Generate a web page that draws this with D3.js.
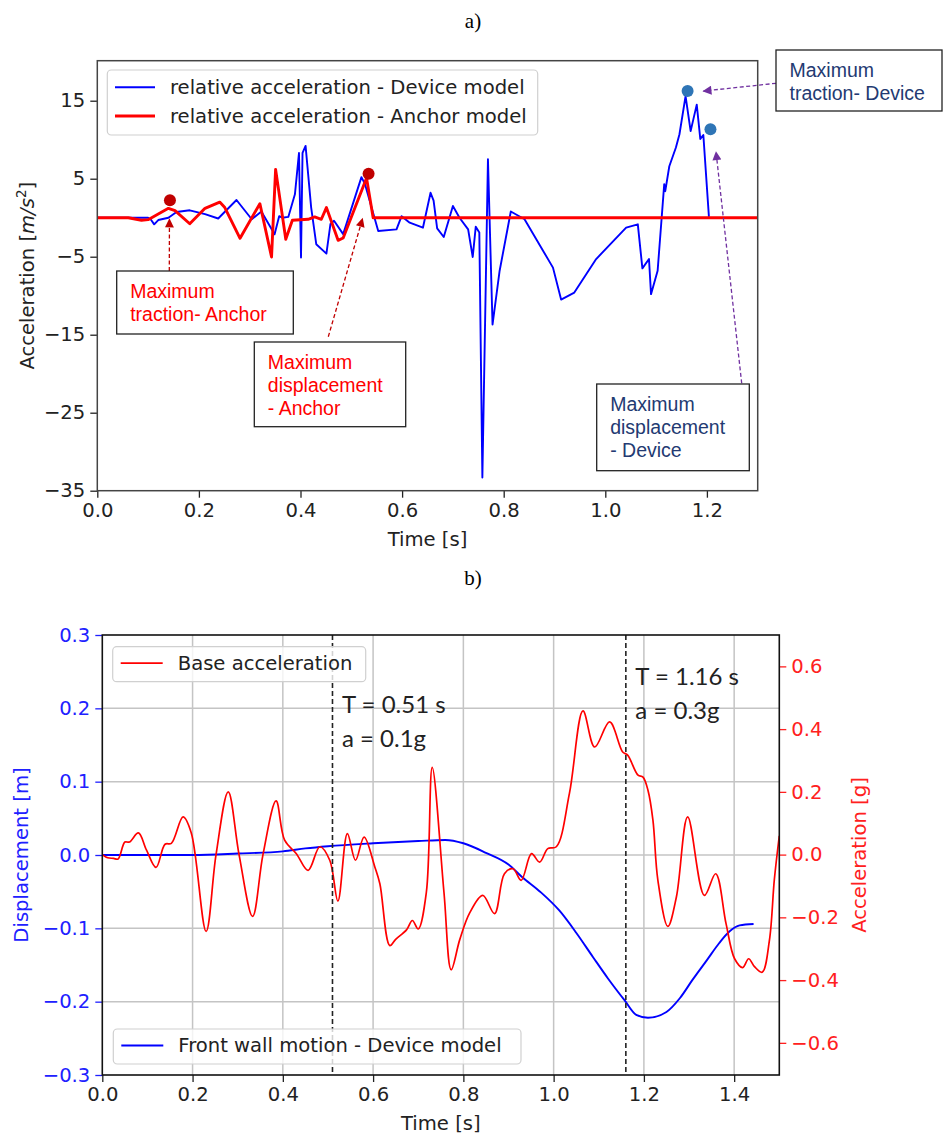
<!DOCTYPE html>
<html>
<head>
<meta charset="utf-8">
<script src="https://cdn.jsdelivr.net/npm/d3@7"></script>
<style>
  body { margin: 0; background: #fff; }
  text { font-family: "DejaVu Sans", sans-serif; }
</style>
</head>
<body>
<div id="chart"></div>
<script>
// ---------- panel a) relative acceleration [m/s2] vs time [s]
const deviceAcc = [
  [0,0],[0.1,0],[0.105,-0.2],[0.112,-0.85],[0.12,-0.3],[0.14,0],[0.156,0.73],[0.182,0.95],
  [0.212,0.45],[0.238,-0.1],[0.274,2.27],[0.304,-0.2],[0.323,0.8],[0.349,-2.13],[0.358,0.2],
  [0.364,0],[0.376,0.1],[0.389,3.0],[0.397,8.3],[0.401,-5.1],[0.404,8.3],[0.41,9.2],[0.421,1.3],
  [0.431,-3.4],[0.451,-4.6],[0.459,-0.8],[0.466,-0.4],[0.484,-2.1],[0.52,5.2],[0.527,4.3],
  [0.553,-1.7],[0.589,-1.5],[0.599,0.2],[0.615,-0.64],[0.641,-1.28],[0.656,3.2],[0.662,2.2],
  [0.669,-1.36],[0.682,-2.47],[0.70,1.5],[0.713,0],[0.73,-1.5],[0.739,-5.04],[0.745,-1.15],
  [0.752,-1.9],[0.758,-33.3],[0.769,7.5],[0.778,-13.7],[0.792,-6.8],[0.814,0.8],[0.841,-0.2],
  [0.897,-6.4],[0.913,-10.5],[0.939,-9.6],[0.982,-5.3],[1.041,-1.28],[1.064,-0.85],[1.073,-6.5],
  [1.086,-5.3],[1.09,-9.8],[1.103,-6.8],[1.116,4.3],[1.118,3.4],[1.126,6.6],[1.139,9.0],
  [1.146,10.7],[1.158,15.6],[1.168,11.1],[1.18,14.5],[1.187,10.1],[1.193,10.6],[1.204,0.1]
];
const anchorAcc = [
  [0,0],[0.061,0],[0.087,-0.33],[0.1,-0.25],[0.14,1.2],[0.153,0.9],[0.182,-0.77],[0.212,1.2],
  [0.241,2.0],[0.251,1.3],[0.281,-2.64],[0.32,1.8],[0.343,-5.04],[0.351,6.2],[0.371,-2.77],
  [0.384,-0.33],[0.415,-0.2],[0.428,0.1],[0.441,-0.2],[0.451,1.3],[0.474,-2.9],[0.484,-2.6],
  [0.53,5.1],[0.543,0],[1.3,0]
];
const anchorPeaks = [[0.143, 2.23], [0.534, 5.64]];
const devicePeaks = [[1.162, 16.24], [1.207, 11.33]];
const accTicks = [15, 5, -5, -15, -25, -35];
const timeTicksA = [0, 0.2, 0.4, 0.6, 0.8, 1.0, 1.2];

// callouts: text lines, colour, arrow tip in data units
const calloutsA = [
  { lines: ["Maximum", "traction- Anchor"], color: "#ff0000", arrow: "#c00000", tip: [0.142, -0.2],
    box: [116.7, 271, 176.6, 63], tail: [169.3, 271] },
  { lines: ["Maximum", "displacement", "- Anchor"], color: "#ff0000", arrow: "#c00000", tip: [0.522, -0.13],
    box: [254.3, 342, 151.4, 84.7], tail: [328.3, 336.7] },
  { lines: ["Maximum", "traction- Device"], color: "#233a72", arrow: "#7030a0", tip: [1.193, 16.24],
    box: [776, 50, 166, 61], tail: [776, 83.3] },
  { lines: ["Maximum", "displacement", "- Device"], color: "#233a72", arrow: "#7030a0", tip: [1.218, 8.42],
    box: [596.7, 384, 152.6, 86.7], tail: [741.7, 383.3] }
];

// ---------- panel b) front wall displacement [m] and base acceleration [g]
const wallDisp = [
  [0,0],[0.2,0],[0.3,0.002],[0.4,0.005],[0.45,0.009],[0.5,0.012],[0.6,0.016],[0.7,0.019],
  [0.76,0.0205],[0.8,0.016],[0.85,0.003],[0.9,-0.013],[0.93,-0.03],[0.97,-0.05],[1.013,-0.076],
  [1.05,-0.106],[1.087,-0.139],[1.12,-0.168],[1.157,-0.198],[1.183,-0.218],[1.209,-0.222],
  [1.25,-0.214],[1.28,-0.195],[1.308,-0.17],[1.34,-0.143],[1.367,-0.12],[1.39,-0.104],
  [1.412,-0.096],[1.443,-0.094]
];
const baseAcc = [
  [0,0],[0.012,-0.01],[0.025,-0.012],[0.035,-0.014],[0.05,0.04],[0.06,0.04],[0.08,0.069],
  [0.098,0.014],[0.119,-0.041],[0.139,0.033],[0.153,0.036],[0.179,0.12],[0.197,0.07],
  [0.23,-0.245],[0.252,0.0],[0.279,0.2],[0.303,0.0],[0.333,-0.197],[0.356,0.0],[0.385,0.171],
  [0.404,0.046],[0.43,0.003],[0.456,-0.05],[0.482,0.025],[0.504,-0.018],[0.522,-0.148],
  [0.543,0.067],[0.561,-0.018],[0.58,0.056],[0.604,-0.04],[0.615,-0.093],[0.637,-0.29],
  [0.65,-0.27],[0.674,-0.24],[0.687,-0.21],[0.7,-0.237],[0.718,-0.12],[0.731,0.278],
  [0.757,-0.12],[0.773,-0.367],[0.792,-0.271],[0.814,-0.186],[0.843,-0.13],[0.869,-0.188],
  [0.891,-0.061],[0.91,-0.045],[0.928,-0.082],[0.951,0.003],[0.969,-0.024],[0.987,0.019],
  [1.006,0.025],[1.035,0.195],[1.065,0.458],[1.091,0.343],[1.124,0.423],[1.153,0.327],
  [1.164,0.317],[1.187,0.253],[1.198,0.247],[1.209,0.205],[1.22,0.11],[1.231,-0.082],
  [1.253,-0.229],[1.272,-0.135],[1.297,0.12],[1.334,-0.13],[1.359,-0.061],[1.382,-0.22],
  [1.401,-0.332],[1.419,-0.36],[1.432,-0.332],[1.445,-0.357],[1.462,-0.375],[1.478,-0.274],
  [1.489,-0.08],[1.5,0.06]
];
const eventTimes = [0.51, 1.16];
const eventLabels = [["T = 0.51 s", "a = 0.1g"], ["T = 1.16 s", "a = 0.3g"]];
const dispTicks = [-0.3, -0.2, -0.1, 0.0, 0.1, 0.2, 0.3];
const gTicks = [-0.6, -0.4, -0.2, 0.0, 0.2, 0.4, 0.6];
const timeTicksB = [0, 0.2, 0.4, 0.6, 0.8, 1.0, 1.2, 1.4];

const FS = "19.6px";   // matplotlib text size as it appears in the picture

const W = 945, H = 1136;
const svg = d3.select("#chart").append("svg")
  .attr("width", W).attr("height", H)
  .style("background", "#fff");

// arrowhead markers
const defs = svg.append("defs");
["#c00000", "#7030a0"].forEach((c, i) => {
  defs.append("marker")
    .attr("id", "arr" + i)
    .attr("viewBox", "0 0 10 10")
    .attr("refX", 9).attr("refY", 5)
    .attr("markerWidth", 11).attr("markerHeight", 9)
    .attr("markerUnits", "userSpaceOnUse")
    .attr("orient", "auto")
    .append("path").attr("d", "M0,0 L10,5 L0,10 z").attr("fill", c);
});

// panel titles
svg.append("text").attr("x", 473).attr("y", 28).attr("text-anchor", "middle")
  .style("font-family", "Liberation Serif").style("font-size", "21px").text("a)");
svg.append("text").attr("x", 473).attr("y", 585).attr("text-anchor", "middle")
  .style("font-family", "Liberation Serif").style("font-size", "21px").text("b)");

// ======================= panel a =======================
const ax = { l: 97.3, r: 757.7, t: 60.7, b: 490.7 };
const xA = d3.scaleLinear().domain([0, 1.3]).range([ax.l, ax.r]);
const yA = d3.scaleLinear().domain([-35, 20.13]).range([ax.b, ax.t]);
const gA = svg.append("g");

gA.append("defs").append("clipPath").attr("id", "clipA")
  .append("rect").attr("x", ax.l).attr("y", ax.t).attr("width", ax.r - ax.l).attr("height", ax.b - ax.t);

const lineA = d3.line().x(d => xA(d[0])).y(d => yA(d[1]));
const plotA = gA.append("g").attr("clip-path", "url(#clipA)");
plotA.append("path").datum(deviceAcc).attr("d", lineA)
  .attr("fill", "none").attr("stroke", "#0000ff").attr("stroke-width", 1.9).attr("stroke-linejoin", "round");
plotA.append("path").datum(anchorAcc).attr("d", lineA)
  .attr("fill", "none").attr("stroke", "#ff0000").attr("stroke-width", 2.9).attr("stroke-linejoin", "round");

gA.selectAll("circle.ap").data(anchorPeaks).enter().append("circle")
  .attr("cx", d => xA(d[0])).attr("cy", d => yA(d[1])).attr("r", 6).attr("fill", "#c00000");
gA.selectAll("circle.dp").data(devicePeaks).enter().append("circle")
  .attr("cx", d => xA(d[0])).attr("cy", d => yA(d[1])).attr("r", 6).attr("fill", "#2e75b6");

// axes
const xAxisA = gA.append("g").attr("transform", `translate(0,${ax.b})`)
  .call(d3.axisBottom(xA).tickValues(timeTicksA).tickFormat(d3.format(".1f")).tickSize(7).tickPadding(5));
const yAxisA = gA.append("g").attr("transform", `translate(${ax.l},0)`)
  .call(d3.axisLeft(yA).tickValues(accTicks).tickFormat(d3.format("d")).tickSize(7).tickPadding(5));
[xAxisA, yAxisA].forEach(a => {
  a.select(".domain").remove();
  a.selectAll("line").attr("stroke", "#222").attr("stroke-width", 1.3);
  a.selectAll("text").style("font-size", FS).attr("fill", "#222");
});
gA.append("rect").attr("x", ax.l).attr("y", ax.t).attr("width", ax.r - ax.l).attr("height", ax.b - ax.t)
  .attr("fill", "none").attr("stroke", "#444").attr("stroke-width", 1.5);

gA.append("text").attr("x", (ax.l + ax.r) / 2).attr("y", 546).attr("text-anchor", "middle")
  .style("font-size", FS).attr("fill", "#222").text("Time [s]");
const ylabA = gA.append("text").attr("transform", `translate(34,${(ax.t + ax.b) / 2}) rotate(-90)`)
  .attr("text-anchor", "middle").style("font-size", FS).attr("fill", "#222");
ylabA.append("tspan").text("Acceleration [");
ylabA.append("tspan").style("font-style", "italic").text("m/s");
ylabA.append("tspan").attr("dy", -8).style("font-size", "13.5px").text("2");
ylabA.append("tspan").attr("dy", 8).text("]");

// legend a
const legA = gA.append("g");
legA.append("rect").attr("x", 107.3).attr("y", 70).attr("width", 430.4).attr("height", 65).attr("rx", 4)
  .attr("fill", "#fff").attr("fill-opacity", 0.8).attr("stroke", "#d0d0d0").attr("stroke-width", 1.2);
[["relative acceleration - Device model", "#0000ff", 1.9, 87.3],
 ["relative acceleration - Anchor model", "#ff0000", 2.9, 116]].forEach(([lab, c, w, y]) => {
  legA.append("line").attr("x1", 115).attr("x2", 155).attr("y1", y).attr("y2", y)
    .attr("stroke", c).attr("stroke-width", w);
  legA.append("text").attr("x", 170).attr("y", y).attr("dy", "0.35em")
    .style("font-size", FS).attr("fill", "#222").text(lab);
});

// callouts
calloutsA.forEach(c => {
  const g = svg.append("g");
  g.append("line").attr("x1", c.tail[0]).attr("y1", c.tail[1])
    .attr("x2", xA(c.tip[0])).attr("y2", yA(c.tip[1]))
    .attr("stroke", c.arrow).attr("stroke-width", 1.3).attr("stroke-dasharray", "4,2.5")
    .attr("marker-end", c.arrow === "#c00000" ? "url(#arr0)" : "url(#arr1)");
  g.append("rect").attr("x", c.box[0]).attr("y", c.box[1]).attr("width", c.box[2]).attr("height", c.box[3])
    .attr("fill", "#fff").attr("stroke", "#222").attr("stroke-width", 1.3);
  c.lines.forEach((t, i) => {
    g.append("text").attr("x", c.box[0] + 13.5).attr("y", c.box[1] + 27 + i * 23)
      .style("font-family", "Liberation Sans").style("font-size", "19.5px")
      .attr("fill", c.color).text(t);
  });
});

// ======================= panel b =======================
const bx = { l: 102.3, r: 779.3, t: 635, b: 1075 };
const xB = d3.scaleLinear().domain([0, 1.5]).range([bx.l, bx.r]);
const yB = d3.scaleLinear().domain([-0.3, 0.3]).range([bx.b, bx.t]);
const yG = d3.scaleLinear().domain([-0.7025, 0.7]).range([bx.b, bx.t]);
const gB = svg.append("g");

gB.append("defs").append("clipPath").attr("id", "clipB")
  .append("rect").attr("x", bx.l).attr("y", bx.t).attr("width", bx.r - bx.l).attr("height", bx.b - bx.t);

// grid
gB.selectAll("line.gx").data(timeTicksB.slice(1)).enter().append("line")
  .attr("x1", d => xB(d)).attr("x2", d => xB(d)).attr("y1", bx.t).attr("y2", bx.b)
  .attr("stroke", "#c4c4c4").attr("stroke-width", 1.5);
gB.selectAll("line.gy").data(dispTicks.slice(1, -1)).enter().append("line")
  .attr("x1", bx.l).attr("x2", bx.r).attr("y1", d => yB(d)).attr("y2", d => yB(d))
  .attr("stroke", "#c4c4c4").attr("stroke-width", 1.5);

const plotB = gB.append("g").attr("clip-path", "url(#clipB)");
plotB.append("path").datum(wallDisp)
  .attr("d", d3.line().curve(d3.curveMonotoneX).x(d => xB(d[0])).y(d => yB(d[1])))
  .attr("fill", "none").attr("stroke", "#0000ff").attr("stroke-width", 1.9);
plotB.append("path").datum(baseAcc)
  .attr("d", d3.line().curve(d3.curveCatmullRom.alpha(0.5)).x(d => xB(d[0])).y(d => yG(d[1])))
  .attr("fill", "none").attr("stroke", "#ff0000").attr("stroke-width", 1.7);

// event lines
gB.selectAll("line.ev").data(eventTimes).enter().append("line")
  .attr("x1", d => xB(d)).attr("x2", d => xB(d)).attr("y1", bx.t).attr("y2", bx.b)
  .attr("stroke", "#222").attr("stroke-width", 1.6).attr("stroke-dasharray", "5,3");
eventTimes.forEach((t, i) => {
  const top = i === 0 ? 712.7 : 685;
  eventLabels[i].forEach((s, j) => {
    gB.append("text").attr("x", xB(t) + 9.5).attr("y", top + j * 34)
      .style("font-family", "Lato").style("font-size", "24px").attr("fill", "#222").text(s);
  });
});

// axes
const xAxisB = gB.append("g").attr("transform", `translate(0,${bx.b})`)
  .call(d3.axisBottom(xB).tickValues(timeTicksB).tickFormat(d3.format(".1f")).tickSize(7).tickPadding(5));
const yAxisB = gB.append("g").attr("transform", `translate(${bx.l},0)`)
  .call(d3.axisLeft(yB).tickValues(dispTicks).tickFormat(d3.format(".1f")).tickSize(7).tickPadding(5));
const gAxisB = gB.append("g").attr("transform", `translate(${bx.r},0)`)
  .call(d3.axisRight(yG).tickValues(gTicks).tickFormat(d3.format(".1f")).tickSize(7).tickPadding(5));
[xAxisB, yAxisB, gAxisB].forEach(a => {
  a.select(".domain").remove();
  a.selectAll("line").attr("stroke-width", 1.3);
  a.selectAll("text").style("font-size", FS);
});
xAxisB.selectAll("line").attr("stroke", "#222");
xAxisB.selectAll("text").attr("fill", "#222");
yAxisB.selectAll("line").attr("stroke", "#2020ff");
yAxisB.selectAll("text").attr("fill", "#2020ff");
gAxisB.selectAll("line").attr("stroke", "#ff2020");
gAxisB.selectAll("text").attr("fill", "#ff2020");
gB.append("rect").attr("x", bx.l).attr("y", bx.t).attr("width", bx.r - bx.l).attr("height", bx.b - bx.t)
  .attr("fill", "none").attr("stroke", "#111").attr("stroke-width", 1.6);

gB.append("text").attr("x", (bx.l + bx.r) / 2).attr("y", 1130).attr("text-anchor", "middle")
  .style("font-size", FS).attr("fill", "#222").text("Time [s]");
gB.append("text").attr("transform", `translate(28,${(bx.t + bx.b) / 2}) rotate(-90)`)
  .attr("text-anchor", "middle").style("font-size", FS).attr("fill", "#2020ff").text("Displacement [m]");
gB.append("text").attr("transform", `translate(866,${(bx.t + bx.b) / 2}) rotate(-90)`)
  .attr("text-anchor", "middle").style("font-size", FS).attr("fill", "#ff2020").text("Acceleration [g]");

// legends b
[[112.7, 646.7, 253, "Base acceleration", "#ff0000", 1.7],
 [113.3, 1029, 407.7, "Front wall motion - Device model", "#0000ff", 1.9]].forEach(([x, y, w, lab, c, sw]) => {
  const lg = gB.append("g");
  lg.append("rect").attr("x", x).attr("y", y).attr("width", w).attr("height", 35).attr("rx", 4)
    .attr("fill", "#fff").attr("fill-opacity", 0.8).attr("stroke", "#d0d0d0").attr("stroke-width", 1.2);
  lg.append("line").attr("x1", x + 8).attr("x2", x + 50).attr("y1", y + 16.5).attr("y2", y + 16.5)
    .attr("stroke", c).attr("stroke-width", sw);
  lg.append("text").attr("x", x + 65).attr("y", y + 16.5).attr("dy", "0.35em")
    .style("font-size", FS).attr("fill", "#222").text(lab);
});
</script>
</body>
</html>
